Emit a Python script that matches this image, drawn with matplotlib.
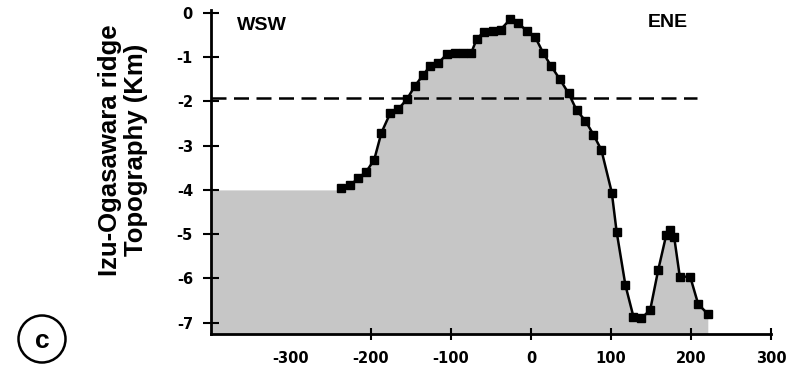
import numpy as np
import matplotlib.pyplot as plt
from matplotlib.patches import Circle

# Topography profile across the Izu-Ogasawara ridge (distance km, depth km)
dist = [-237, -226, -216, -206, -196, -187, -176, -166, -155, -145, -135, -126,
        -116, -105, -95, -85, -75, -68, -59, -48, -38, -26, -16, -5, 5, 15, 25,
        36, 47, 57, 68, 78, 88, 101, 107, 118, 128, 138, 149, 159, 169, 174,
        179, 186, 199, 209, 221]
depth = [-3.96, -3.89, -3.74, -3.59, -3.32, -2.71, -2.27, -2.18, -1.95, -1.65,
         -1.41, -1.20, -1.14, -0.93, -0.90, -0.90, -0.92, -0.60, -0.43, -0.41,
         -0.38, -0.15, -0.24, -0.41, -0.54, -0.90, -1.20, -1.50, -1.82, -2.20,
         -2.44, -2.75, -3.10, -4.06, -4.94, -6.15, -6.86, -6.90, -6.71, -5.81,
         -5.02, -4.91, -5.07, -5.96, -5.96, -6.58, -6.80]

# flat sea floor west of the profile
shelf_x = [-400, -237]
shelf_y = [-4.0, -4.0]

# dashed reference level
ref_x = [-400, 207]
ref_y = [-1.93, -1.93]

xticks = [-300, -200, -100, 0, 100, 200, 300]
yticks = [0, -1, -2, -3, -4, -5, -6, -7]

plt.rcParams['font.family'] = 'Liberation Sans'
plt.rcParams['font.weight'] = 'bold'

fig = plt.figure(figsize=(7.88, 3.73), dpi=100)
ax = fig.add_axes([211 / 788, 0.105, 560 / 788, 0.868])

fill_x = shelf_x + dist
fill_y = shelf_y + depth
ax.fill_between(fill_x, fill_y, -7.4, color='#c6c6c6', lw=0, zorder=1)

ax.plot(ref_x, ref_y, color='black', lw=1.8, dashes=(6, 3), zorder=2)
ax.plot(dist, depth, color='black', lw=1.8, marker='s', ms=6.3,
        markerfacecolor='black', zorder=3)

ax.set_xlim(-400, 300)
ax.set_ylim(-7.25, 0.06)

for s in ['top', 'right']:
    ax.spines[s].set_visible(False)
for s in ['left', 'bottom']:
    ax.spines[s].set_linewidth(2)

ax.set_xticks(xticks)
ax.set_xticklabels([str(v) for v in xticks], family='DejaVu Sans',
                   fontweight='bold', fontsize=10.5)
ax.set_yticks(yticks)
ax.set_yticklabels([str(v) for v in yticks], family='DejaVu Sans',
                   fontweight='bold', fontsize=10.5)
ax.tick_params(axis='x', direction='inout', length=8, width=1.5, pad=8)
ax.tick_params(axis='y', direction='inout', length=12, width=1.5, pad=7)
# no tick mark at -300 in the original
ax.xaxis.get_major_ticks()[0].tick1line.set_visible(False)

ax.text(-368, -0.28, 'WSW', fontsize=14, fontweight='bold', va='center')
ax.text(146, -0.22, 'ENE', fontsize=14, fontweight='bold', va='center')

fig.text(0.156, 0.598, 'Izu-Ogasawara ridge\nTopography (Km)', rotation=90,
         fontsize=18.5, fontweight='bold', ha='center', va='center',
         linespacing=1.15)

circ = Circle((0.42, (373 - 339) / 100), 0.235, transform=fig.dpi_scale_trans,
              fill=False, lw=1.8, color='black')
fig.patches.append(circ)
fig.text(42 / 788, 1 - 341 / 373, 'c', fontsize=19, fontweight='bold',
         ha='center', va='center')

plt.savefig('out.png', dpi=100)
